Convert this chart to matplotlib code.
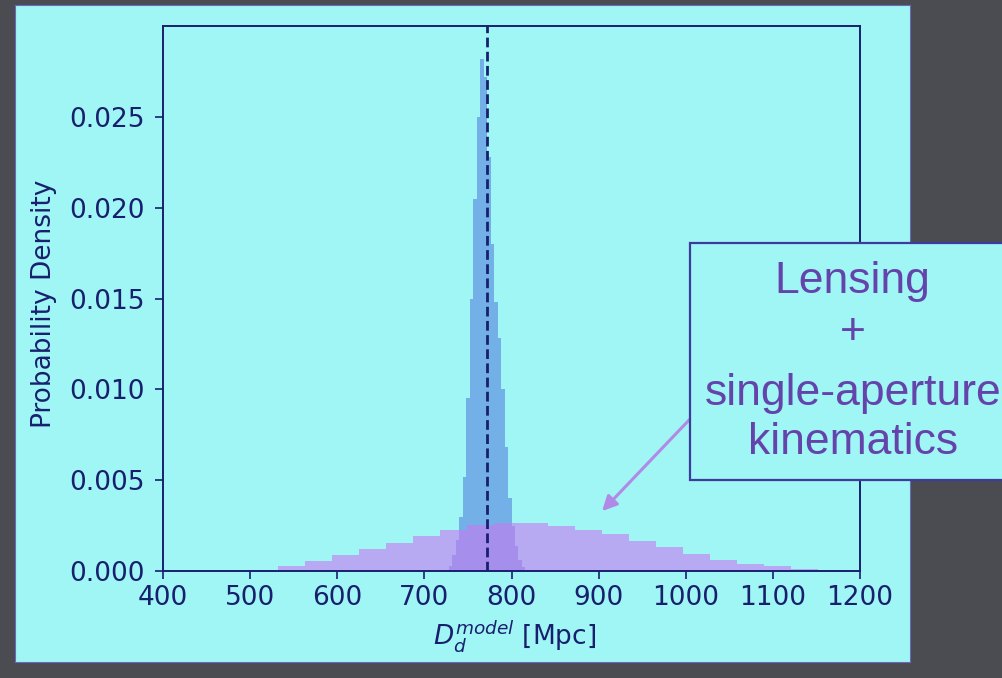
import matplotlib
matplotlib.use("Agg")
import matplotlib.pyplot as plt
from matplotlib.patches import Rectangle

# lensing-only posterior on D_d (narrow) -- bin edges [Mpc] and densities
narrow_edges = [728, 732, 736, 740, 744, 748, 752, 756, 760, 764, 768,
                772, 776, 780, 784, 788, 792, 796, 800, 804, 808, 812, 816]
narrow_density = [0.0003, 0.0009, 0.0017, 0.0030, 0.0052, 0.0095, 0.0150,
                  0.0205, 0.0250, 0.0282, 0.0272, 0.0228, 0.0180, 0.0148,
                  0.0128, 0.0100, 0.0068, 0.0040, 0.0025, 0.0014, 0.0006,
                  0.0002]

# lensing + single-aperture kinematics (broad)
wide_edges = [501, 532, 563, 594, 625, 656, 687, 718, 749, 780, 811, 842,
              873, 904, 935, 966, 997, 1028, 1059, 1090, 1121, 1152, 1183]
wide_density = [0.00007, 0.00028, 0.00055, 0.00088, 0.00121, 0.00154,
                0.00192, 0.00227, 0.00251, 0.00264, 0.00264, 0.00247,
                0.00227, 0.00201, 0.00165, 0.00130, 0.00095, 0.00062,
                0.00041, 0.00025, 0.00013, 0.00005]

d_model = 772          # true model distance (dashed line)
arrow_tip = (904, 0.0033)

xticks = [400, 500, 600, 700, 800, 900, 1000, 1100, 1200]
yticks = [0.000, 0.005, 0.010, 0.015, 0.020, 0.025]
box_lines = ["Lensing", "+", "single-aperture", "kinematics"]

SLIDE = "#a0f5f5"
INK = "#18206e"
PURPLE = "#6444aa"

fig = plt.figure(figsize=(10.02, 6.78), dpi=100)
fig.patch.set_facecolor("#4a4c51")
fig.add_artist(Rectangle((0.015, 0.024), 0.893, 0.969, transform=fig.transFigure,
                         facecolor=SLIDE, edgecolor="#6a6ab8", lw=0.8, zorder=0))

ax = fig.add_axes([0.1627, 0.1578, 0.6956, 0.8038])
ax.set_facecolor(SLIDE)

ax.stairs(narrow_density, narrow_edges, fill=True, color="#4f78dc", alpha=0.55, lw=0)
ax.stairs(wide_density, wide_edges, fill=True, color="#c878f0", alpha=0.6, lw=0)
ax.axvline(d_model, color=INK, lw=2.0, linestyle=(0, (3.5, 1.6)))

ax.set_xlim(400, 1200)
ax.set_ylim(0, 0.030)
ax.set_xticks(xticks)
ax.set_yticks(yticks)
ax.set_yticklabels([f"{v:.3f}" for v in yticks])
ax.tick_params(axis="both", colors=INK, labelsize=19, length=6, width=1.2)
ax.tick_params(axis="y", pad=7)
ax.tick_params(axis="x", pad=4)
for s in ax.spines.values():
    s.set_color(INK)
    s.set_linewidth(1.4)

ax.set_ylabel("Probability Density", fontsize=19, color=INK)
ax.set_xlabel(r"$D_d^{model}$ [Mpc]", fontsize=19, color=INK)
ax.yaxis.set_label_coords(-0.152, 0.49)
ax.xaxis.set_label_coords(0.505, -0.086)

# annotation box, partly off the slide
fig.add_artist(Rectangle((0.6886, 0.292), 0.33, 0.35, transform=fig.transFigure,
                         facecolor=SLIDE, edgecolor="#3c3c9a", lw=1.6, zorder=5))
line_y = [0.585, 0.510, 0.419, 0.347]
for txt, yy in zip(box_lines, line_y):
    fig.text(0.851, yy, txt, ha="center", va="center", fontsize=32,
             family="Liberation Sans", color=PURPLE, zorder=6)

ax.annotate("", xy=arrow_tip, xycoords="data",
            xytext=(0.6906, 0.385), textcoords="figure fraction",
            arrowprops=dict(arrowstyle="-|>", color="#b08ae6", lw=2.2,
                            mutation_scale=22, shrinkA=0, shrinkB=0),
            zorder=7, annotation_clip=False)

fig.savefig("out.png", dpi=100, facecolor=fig.get_facecolor())
